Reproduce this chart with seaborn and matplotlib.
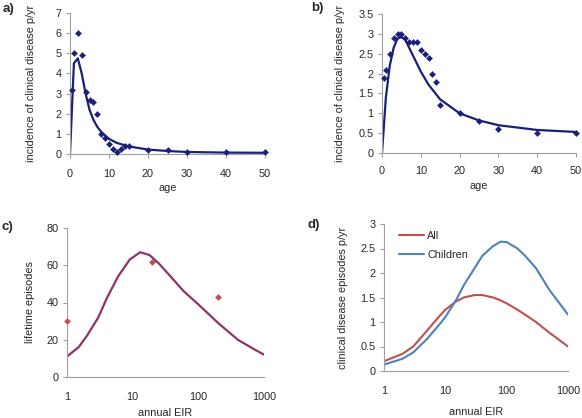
import matplotlib
matplotlib.use("Agg")
import matplotlib.pyplot as plt
import pandas as pd
import seaborn as sns
from matplotlib.ticker import FixedLocator, FixedFormatter

# panel a: incidence by age (data points and model curve)
a_age = [0.5, 1, 2, 3, 4, 5, 6, 7, 8, 9, 10, 11, 12, 13, 14, 15, 20, 25, 30, 40, 50]
a_obs = [3.2, 5.0, 6.0, 4.9, 3.1, 2.7, 2.6, 2.0, 1.0, 0.8, 0.5, 0.25, 0.1, 0.25, 0.4, 0.4, 0.2, 0.2, 0.1, 0.1, 0.1]
a_fit_age = [0, 1, 2, 3, 4, 5, 6, 7, 8, 10, 12, 15, 20, 25, 30, 40, 50]
a_fit = [0, 4.5, 4.75, 4.0, 3.0, 2.2, 1.7, 1.35, 1.1, 0.75, 0.55, 0.38, 0.22, 0.15, 0.1, 0.07, 0.06]

# panel b
b_age = [0.5, 1, 2, 3, 4, 5, 6, 7, 8, 9, 10, 11, 12, 13, 14, 15, 20, 25, 30, 40, 50]
b_obs = [1.9, 2.1, 2.5, 2.9, 3.0, 3.0, 2.9, 2.8, 2.8, 2.8, 2.6, 2.5, 2.4, 2.0, 1.8, 1.2, 1.0, 0.8, 0.6, 0.5, 0.5]
b_fit_age = [0, 1, 2, 3, 4, 5, 6, 7, 8, 10, 12, 15, 20, 25, 30, 40, 50]
b_fit = [0, 1.4, 2.2, 2.65, 2.88, 2.92, 2.85, 2.65, 2.45, 2.05, 1.72, 1.35, 1.0, 0.82, 0.7, 0.58, 0.53]

# panel c: lifetime episodes vs EIR
c_eir = [1, 1.5, 2, 3, 4, 6, 9, 13, 18, 25, 40, 60, 100, 200, 400, 700, 1000]
c_model = [11, 16, 22, 32, 42, 54, 63, 67, 65.5, 61, 53, 46, 39, 29, 20, 15, 12]
c_obs_eir = [1, 20, 200]
c_obs = [30, 62, 43]

# panel d: episodes per year, all ages vs children
d_eir = [1, 2, 3, 5, 8, 10, 15, 20, 30, 40, 60, 80, 100, 150, 200, 300, 500, 1000]
d_all = [0.2, 0.35, 0.5, 0.82, 1.12, 1.25, 1.42, 1.5, 1.55, 1.55, 1.5, 1.44, 1.38, 1.25, 1.15, 1.0, 0.78, 0.5]
d_children = [0.13, 0.25, 0.38, 0.65, 0.95, 1.1, 1.45, 1.75, 2.1, 2.35, 2.55, 2.64, 2.63, 2.5, 2.35, 2.1, 1.65, 1.15]

NAVY = "#1a1f7a"
PURPLE = "#8c3564"
BROWN = "#c0504d"
RED = "#c0504d"
BLUE = "#4f81bd"
AXIS = "#a0a0a0"
FS = 7.8

sns.set_style("white")
plt.rcParams["font.family"] = ["Liberation Sans", "DejaVu Sans"]
plt.rcParams["font.size"] = FS

W, H = 582, 418
fig = plt.figure(figsize=(W / 100, H / 100), dpi=100)


def px_axes(x0, y0, x1, y1):
    return fig.add_axes([x0 / W, 1 - y1 / H, (x1 - x0) / W, (y1 - y0) / H])


def style(ax, xpad=8, xlen=3):
    for s in ["top", "right"]:
        ax.spines[s].set_visible(False)
    for s in ["left", "bottom"]:
        ax.spines[s].set_color(AXIS)
        ax.spines[s].set_linewidth(0.8)
    ax.tick_params(axis="y", left=True, direction="out", length=3, width=0.8,
                   color=AXIS, labelsize=FS, pad=3)
    ax.tick_params(axis="x", bottom=True, direction="out", length=xlen, width=0.8,
                   color=AXIS, labelsize=FS, pad=xpad)


def log_x(ax):
    ax.set_xscale("log")
    ax.set_xlim(1, 1000)
    ax.xaxis.set_major_locator(FixedLocator([1, 10, 100, 1000]))
    ax.xaxis.set_major_formatter(FixedFormatter(["1", "10", "100", "1000"]))
    ax.xaxis.set_minor_locator(FixedLocator([]))


axa = px_axes(70, 13, 265, 154)
sns.lineplot(x=a_fit_age, y=a_fit, ax=axa, color=NAVY, linewidth=1.6)
sns.scatterplot(x=a_age, y=a_obs, ax=axa, color=NAVY, marker="D", s=10,
                edgecolor=NAVY, clip_on=False, zorder=3)
axa.set_xlim(0, 50)
axa.set_ylim(0, 7)
axa.set_xticks([0, 10, 20, 30, 40, 50])
axa.set_yticks(range(0, 8))
axa.set_xlabel("age", labelpad=3)
axa.set_ylabel("incidence of clinical disease p/yr", labelpad=14)
style(axa)

axb = px_axes(382, 14, 576, 153)
sns.lineplot(x=b_fit_age, y=b_fit, ax=axb, color=NAVY, linewidth=1.6)
sns.scatterplot(x=b_age, y=b_obs, ax=axb, color=NAVY, marker="D", s=10,
                edgecolor=NAVY, clip_on=False, zorder=3)
axb.set_xlim(0, 50)
axb.set_ylim(0, 3.5)
axb.set_xticks([0, 10, 20, 30, 40, 50])
axb.set_yticks([0, 0.5, 1, 1.5, 2, 2.5, 3, 3.5])
axb.set_yticklabels(["0", "0.5", "1", "1.5", "2", "2.5", "3", "3.5"])
axb.set_xlabel("age", labelpad=4)
axb.set_ylabel("incidence of clinical disease p/yr", labelpad=10)
style(axb, xpad=6)

axc = px_axes(67, 228, 264, 377)
sns.lineplot(x=c_eir, y=c_model, ax=axc, color=PURPLE, linewidth=1.6)
sns.scatterplot(x=c_obs_eir, y=c_obs, ax=axc, color=BROWN, marker="D", s=10,
                edgecolor=BROWN, clip_on=False, zorder=3)
log_x(axc)
axc.set_ylim(0, 80)
axc.set_yticks([0, 20, 40, 60, 80])
axc.set_xlabel("annual EIR", labelpad=4)
axc.set_ylabel("lifetime episodes", labelpad=8)
style(axc, xpad=11, xlen=0)

axd = px_axes(384, 224, 568, 371)
df_d = pd.DataFrame({"eir": d_eir * 2,
                     "episodes": d_all + d_children,
                     "group": ["All"] * len(d_eir) + ["Children"] * len(d_eir)})
sns.lineplot(data=df_d, x="eir", y="episodes", hue="group", ax=axd,
             palette={"All": RED, "Children": BLUE}, linewidth=1.5)
log_x(axd)
axd.set_ylim(0, 3)
axd.set_yticks([0, 0.5, 1, 1.5, 2, 2.5, 3])
axd.set_yticklabels(["0", "0.5", "1", "1.5", "2", "2.5", "3"])
axd.set_xlabel("annual EIR", labelpad=8)
axd.set_ylabel("clinical disease episodes p/yr", labelpad=9)
style(axd, xpad=10.5, xlen=0)
axd.legend(loc="upper left", bbox_to_anchor=(0.03, 1.02), frameon=False,
           fontsize=FS, handlelength=2.3, handletextpad=0.3, labelspacing=0.85)

for lbl, (x, y) in {"a)": (3, 9), "b)": (311, 8), "c)": (1, 227), "d)": (307, 225)}.items():
    fig.text(x / W, 1 - y / H, lbl, fontsize=9.5, fontweight="bold", va="center", ha="left")

fig.savefig("out.png", dpi=100)
